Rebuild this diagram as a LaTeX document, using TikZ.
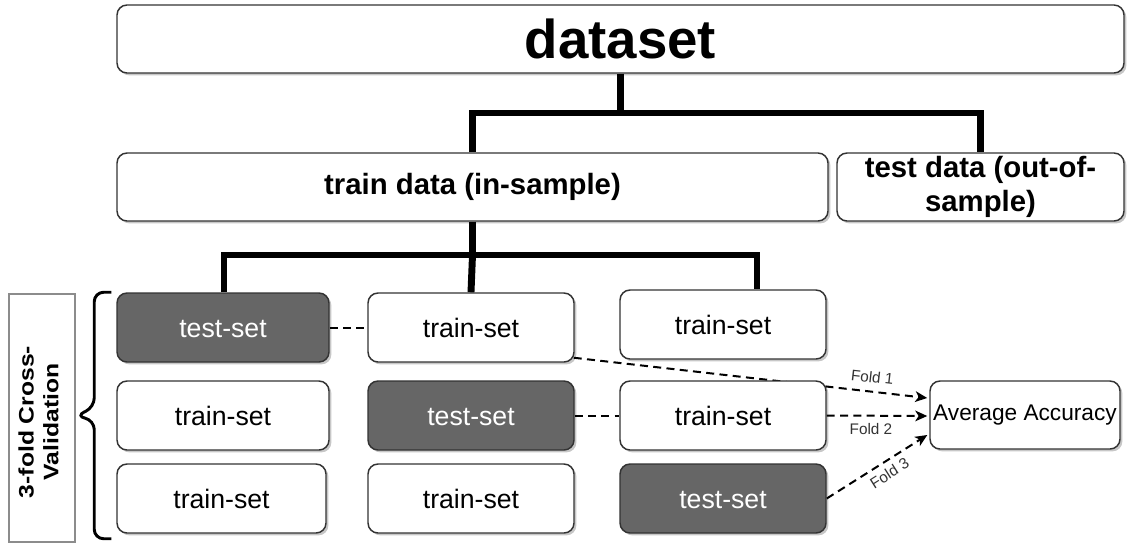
\documentclass[tikz,border=0pt]{standalone}
\usepackage{fontspec}
\setmainfont{Liberation Sans}
\usetikzlibrary{shadows,calc,arrows.meta}
\pgfdeclarelayer{links}
\pgfsetlayers{links,main}

\begin{document}
\begin{tikzpicture}[x=0.75pt,y=-0.75pt,
  size/.style 2 args={minimum width=#1*0.75pt, minimum height=#2*0.75pt},
  box/.style={draw=black!80, line width=1.1pt, rounded corners=7.5pt, fill=white,
    inner sep=0pt, align=center,
    drop shadow={shadow xshift=1.8pt, shadow yshift=-1.8pt, fill=black, opacity=0.22}},
  darkbox/.style={box, fill=black!60, text=white},
  bigtxt/.style={font=\fontsize{41}{49}\selectfont\bfseries},
  headtxt/.style={font=\fontsize{22}{26}\selectfont\bfseries},
  celltxt/.style={font=\fontsize{20}{24}\selectfont, text height=14.6pt, text depth=0pt},
  cell/.style={size={206}{69}},
  bus/.style={draw=black, line width=5.2pt},
  link/.style={draw=black, line width=1.5pt, dash pattern=on 6pt off 4pt},
  foldarrow/.style={link, -{Stealth[length=9pt,width=8pt,inset=2.5pt]}},
  foldtxt/.style={font=\fontsize{11.5}{13}\selectfont, text=black!80, inner sep=2pt},
]
\useasboundingbox (0,0) rectangle (1128,543);

% top level
\node[box, bigtxt, size={1007}{68}] (ds) at (620.5,39) {dataset};
\node[box, headtxt, size={711}{68}] (tr) at (472.5,187) {train data (in-sample)};
\node[box, headtxt, size={287}{68}] (td) at (980.5,187) {test data (out-of-\\sample)};

% fold grid
\node[darkbox, celltxt, cell, size={212}{69}] (s11) at (223,327.5) {test-set};
\node[box, celltxt, cell] (t12) at (471,327.5) {train-set};
\node[box, celltxt, cell] (t13) at (723,324.5) {train-set};
\node[box, celltxt, cell, size={212}{69}] (t21) at (223,415.5) {train-set};
\node[darkbox, celltxt, cell] (s22) at (471,415.5) {test-set};
\node[box, celltxt, cell] (t23) at (723,415.5) {train-set};
\node[box, celltxt, cell, size={209}{69}] (t31) at (221.5,498.5) {train-set};
\node[box, celltxt, cell] (t32) at (471,498.5) {train-set};
\node[darkbox, celltxt, cell] (s33) at (723,498.5) {test-set};

\node[box, font=\fontsize{17}{20}\selectfont, size={190}{68}] (acc) at (1025,415) {Average Accuracy};

% side label and brace
\node[draw=black!45, line width=1.1pt, fill=white, inner sep=0pt, size={66}{248}] (cv) at (42,418) {};
\node[rotate=90, inner sep=0pt, font=\fontsize{18.5}{22}\selectfont\bfseries] (cvtxt) at (41,422)
  {\scalebox{1}[0.85]{\begin{tabular}{@{}c@{}}3-fold Cross-\\Validation\end{tabular}}};
\draw[line width=2.2pt, rounded corners=7pt]
  ($(s11.north west)+(-5,0)$) -- ++(-17,0) -- ++(0,115)
  -- (cv.east |- 0,416) -- ($(s11.north west)+(-22,128)$) -- ($(t31.south west)+(-22,5)$)
  -- ++(17,0);

% split buses
\coordinate (split1) at (620.5,113);
\coordinate (split2) at (472.5,255);
\coordinate (c13) at ($(t13.north)+(34,0)$);
\draw[bus] (ds.south) -- (split1);
\draw[bus] (tr.north) |- (split1) -| (td.north);
\draw[bus] (tr.south) -- (split2);
\draw[bus] ($(s11.north)+(1,0)$) |- (split2) -| (c13);
\draw[bus] (split2) -- (t12.north);

% fold links
\coordinate (in1) at ($(acc.west)+(-2,-17)$);
\coordinate (in2) at ($(acc.west)+(-2,1)$);
\coordinate (in3) at ($(acc.west)+(-2,20)$);
\begin{pgfonlayer}{links}
\draw[link] (s11.east) -- (t12.west);
\draw[link] (s22.east) -- (t23.west);
\draw[foldarrow] ($(t12.south east)+(-1,-5)$) -- node[foldtxt, sloped, above=4pt, pos=0.84] {Fold 1} (in1);
\draw[foldarrow] (t23.east) -- node[foldtxt, below=3pt, pos=0.44] {Fold 2} (in2);
\draw[foldarrow] (s33.east) -- node[foldtxt, sloped, below=2pt, pos=0.56] {Fold 3} (in3);
\end{pgfonlayer}
\end{tikzpicture}
\end{document}
